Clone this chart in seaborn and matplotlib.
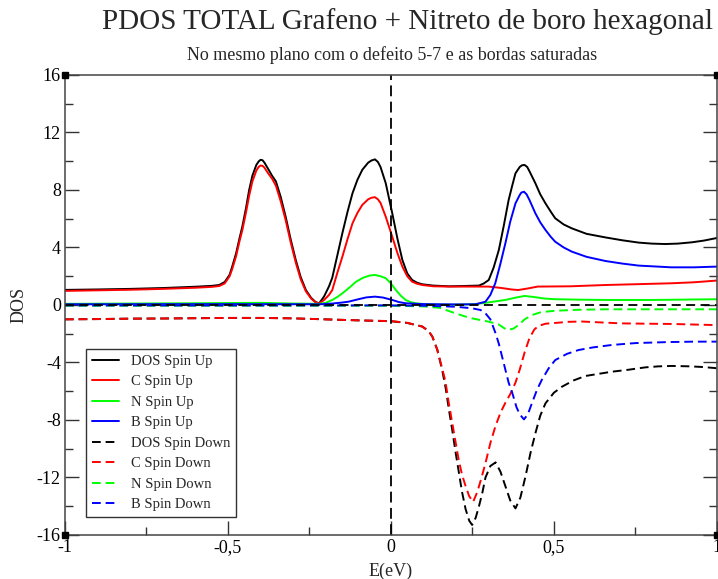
import matplotlib
matplotlib.use("Agg")
import matplotlib.pyplot as plt
import seaborn as sns
from matplotlib.ticker import MultipleLocator

# PDOS values (E in eV)
e_dos_up = [-1.0, -0.9, -0.8, -0.7, -0.6, -0.55, -0.527, -0.51, -0.495, -0.487, -0.475, -0.465,
            -0.456, -0.445, -0.435, -0.425, -0.413, -0.406, -0.40, -0.394, -0.388, -0.375, -0.365,
            -0.353, -0.338, -0.323, -0.308, -0.292, -0.277, -0.261, -0.245, -0.231, -0.22, -0.205,
            -0.19, -0.18, -0.165, -0.149, -0.133, -0.118, -0.103, -0.088, -0.07, -0.06, -0.049,
            -0.04, -0.032, -0.016, 0.004, 0.02, 0.035, 0.05, 0.065, 0.08, 0.096, 0.13, 0.178,
            0.22, 0.27, 0.285, 0.30, 0.315, 0.331, 0.346, 0.361, 0.372, 0.382, 0.395, 0.402,
            0.41, 0.418, 0.425, 0.443, 0.458, 0.474, 0.49, 0.504, 0.53, 0.555, 0.6, 0.658, 0.71,
            0.76, 0.8, 0.841, 0.88, 0.923, 0.96, 1.0]
dos_up = [1.05, 1.08, 1.12, 1.18, 1.27, 1.33, 1.39, 1.6, 2.1, 2.67, 3.6, 4.6,
          5.45, 6.7, 8.0, 9.0, 9.74, 9.98, 10.1, 10.07, 9.9, 9.4, 9.0,
          8.6, 7.5, 6.14, 4.6, 3.13, 1.95, 1.04, 0.5, 0.2, 0.12, 0.6,
          1.3, 1.9, 3.4, 5.0, 6.5, 7.77, 8.7, 9.4, 9.9, 10.05, 10.13,
          9.95, 9.6, 8.47, 6.38, 4.6, 3.13, 2.2, 1.74, 1.55, 1.44, 1.35, 1.3,
          1.32, 1.35, 1.5, 1.74, 2.6, 3.83, 5.5, 7.3, 8.3, 9.16, 9.6, 9.72,
          9.74, 9.6, 9.3, 8.47, 7.7, 7.07, 6.5, 6.03, 5.6, 5.33, 4.95, 4.7, 4.5,
          4.34, 4.27, 4.24, 4.27, 4.36, 4.48, 4.66]

e_c_up = [-1.0, -0.9, -0.8, -0.7, -0.6, -0.55, -0.527, -0.51, -0.495, -0.487, -0.475, -0.465,
          -0.456, -0.445, -0.435, -0.425, -0.413, -0.406, -0.40, -0.394, -0.388, -0.375, -0.365,
          -0.353, -0.338, -0.323, -0.308, -0.292, -0.277, -0.261, -0.245, -0.231, -0.22, -0.205,
          -0.19, -0.18, -0.165, -0.149, -0.133, -0.118, -0.103, -0.088, -0.07, -0.06, -0.049,
          -0.04, -0.032, -0.016, 0.004, 0.02, 0.035, 0.05, 0.065, 0.08, 0.096, 0.13, 0.178,
          0.25, 0.30, 0.34, 0.37, 0.39, 0.42, 0.45, 0.55, 0.658, 0.76, 0.86, 0.93, 1.0]
c_up = [0.98, 1.02, 1.06, 1.12, 1.2, 1.26, 1.32, 1.5, 2.0, 2.5, 3.4, 4.4,
        5.2, 6.4, 7.6, 8.6, 9.35, 9.6, 9.7, 9.68, 9.55, 9.1, 8.8,
        8.3, 7.2, 5.9, 4.4, 2.95, 1.8, 0.95, 0.45, 0.18, 0.1, 0.35,
        0.7, 1.04, 2.2, 3.36, 4.6, 5.68, 6.4, 6.96, 7.35, 7.46, 7.5,
        7.35, 7.1, 6.14, 4.75, 3.6, 2.67, 2.0, 1.62, 1.48, 1.39, 1.3, 1.28,
        1.28, 1.28, 1.18, 1.08, 1.04, 1.15, 1.28, 1.3, 1.39, 1.45, 1.51, 1.58, 1.7]

e_n_up = [-1.0, -0.8, -0.6, -0.4, -0.3, -0.22, -0.2, -0.18, -0.165, -0.149, -0.128, -0.107,
          -0.085, -0.065, -0.049, -0.032, -0.016, 0.0, 0.015, 0.03, 0.045, 0.06, 0.076, 0.1,
          0.15, 0.2, 0.25, 0.29, 0.32, 0.351, 0.38, 0.41, 0.44, 0.47, 0.504, 0.58, 0.658,
          0.8, 1.0]
n_up = [0.08, 0.1, 0.12, 0.15, 0.1, 0.08, 0.15, 0.35, 0.55, 0.81, 1.2, 1.62,
        1.9, 2.05, 2.09, 2.0, 1.86, 1.5, 1.04, 0.65, 0.35, 0.2, 0.12, 0.06,
        0.02, 0.02, 0.05, 0.15, 0.25, 0.35, 0.5, 0.63, 0.55, 0.45, 0.4, 0.37, 0.35,
        0.35, 0.4]

e_b_up = [-1.0, -0.5, -0.22, -0.18, -0.15, -0.13, -0.1, -0.075, -0.049, -0.025, 0.004, 0.025,
          0.045, 0.1, 0.2, 0.26, 0.29, 0.305, 0.32, 0.335, 0.351, 0.366, 0.382, 0.395, 0.40,
          0.408, 0.416, 0.425, 0.443, 0.458, 0.474, 0.49, 0.504, 0.53, 0.555, 0.6, 0.658, 0.71,
          0.76, 0.86, 0.93, 1.0]
b_up = [0.05, 0.06, 0.05, 0.1, 0.17, 0.23, 0.4, 0.53, 0.58, 0.52, 0.35, 0.2,
        0.12, 0.06, 0.04, 0.05, 0.23, 0.7, 1.51, 2.8, 4.29, 5.8, 7.07, 7.65, 7.82,
        7.88, 7.7, 7.3, 6.38, 5.75, 5.22, 4.75, 4.4, 4.0, 3.71, 3.35, 3.06, 2.88,
        2.74, 2.62, 2.62, 2.67]

e_dos_dn = [-1.0, -0.9, -0.8, -0.7, -0.6, -0.5, -0.4, -0.3, -0.2, -0.1, 0.0, 0.05, 0.096,
            0.115, 0.127, 0.142, 0.157, 0.168, 0.178, 0.188, 0.198, 0.208, 0.218, 0.229, 0.24,
            0.249, 0.26, 0.27, 0.28, 0.29, 0.305, 0.321, 0.336, 0.351, 0.366, 0.382, 0.397,
            0.413, 0.428, 0.443, 0.458, 0.474, 0.5, 0.525, 0.56, 0.596, 0.64, 0.678, 0.73,
            0.78, 0.82, 0.862, 0.92, 0.96, 1.0]
dos_dn = [-1.0, -0.98, -0.95, -0.94, -0.92, -0.9, -0.9, -0.93, -1.0, -1.07, -1.13, -1.25, -1.5,
          -1.8, -2.2, -3.1, -4.5, -5.8, -7.3, -8.7, -10.2, -11.6, -13.0, -14.2, -15.0,
          -15.3, -14.8, -14.0, -13.1, -12.0, -11.2, -10.95, -11.6, -12.6, -13.6, -14.15, -13.4,
          -11.9, -10.3, -8.93, -7.7, -6.84, -6.1, -5.68, -5.25, -4.94, -4.78, -4.64, -4.5,
          -4.34, -4.27, -4.24, -4.27, -4.32, -4.4]

e_c_dn = [-1.0, -0.9, -0.8, -0.7, -0.6, -0.5, -0.4, -0.3, -0.2, -0.1, 0.0, 0.05, 0.096,
          0.115, 0.127, 0.142, 0.157, 0.167, 0.178, 0.188, 0.198, 0.208, 0.218, 0.229, 0.24,
          0.252, 0.265, 0.278, 0.29, 0.305, 0.321, 0.336, 0.351, 0.366, 0.382, 0.395, 0.41,
          0.425, 0.44, 0.453, 0.475, 0.504, 0.545, 0.586, 0.65, 0.708, 0.78, 0.862, 0.93, 1.0]
c_dn = [-1.0, -0.98, -0.95, -0.94, -0.92, -0.9, -0.9, -0.93, -1.0, -1.07, -1.12, -1.24, -1.5,
        -1.8, -2.2, -3.1, -4.4, -5.3, -6.9, -8.2, -9.5, -10.8, -11.8, -12.6, -13.3,
        -13.7, -13.0, -12.0, -11.0, -9.6, -8.4, -7.5, -6.8, -6.2, -5.4, -4.5, -3.3,
        -2.3, -1.7, -1.45, -1.3, -1.25, -1.17, -1.15, -1.22, -1.28, -1.3, -1.32, -1.36, -1.4]

e_n_dn = [-1.0, -0.5, 0.0, 0.1, 0.15, 0.175, 0.198, 0.225, 0.249, 0.275, 0.30, 0.33, 0.356,
          0.375, 0.392, 0.41, 0.433, 0.46, 0.504, 0.58, 0.658, 0.8, 1.0]
n_dn = [-0.05, -0.05, -0.05, -0.1, -0.2, -0.4, -0.58, -0.78, -0.93, -1.05, -1.16, -1.35, -1.74,
        -1.65, -1.39, -1.0, -0.7, -0.5, -0.4, -0.33, -0.3, -0.3, -0.3]

e_b_dn = [-1.0, -0.5, 0.0, 0.1, 0.198, 0.249, 0.275, 0.29, 0.305, 0.321, 0.331, 0.341, 0.351,
          0.361, 0.372, 0.385, 0.395, 0.408, 0.42, 0.433, 0.448, 0.463, 0.484, 0.504, 0.54,
          0.576, 0.62, 0.678, 0.75, 0.85, 0.93, 1.0]
b_dn = [-0.03, -0.03, -0.03, -0.05, -0.12, -0.23, -0.35, -0.58, -1.0, -1.97, -2.7, -3.6, -4.5,
        -5.4, -6.1, -7.1, -7.6, -7.96, -7.6, -6.8, -5.9, -5.2, -4.4, -3.83, -3.4,
        -3.13, -2.95, -2.78, -2.65, -2.58, -2.55, -2.55]

dash = (0, (4.5, 2.5))
series = [
    ("DOS Spin Up", e_dos_up, dos_up, "black", "-"),
    ("C Spin Up", e_c_up, c_up, "red", "-"),
    ("N Spin Up", e_n_up, n_up, "#00ff00", "-"),
    ("B Spin Up", e_b_up, b_up, "blue", "-"),
    ("DOS Spin Down", e_dos_dn, dos_dn, "black", dash),
    ("C Spin Down", e_c_dn, c_dn, "red", dash),
    ("N Spin Down", e_n_dn, n_dn, "#00ff00", dash),
    ("B Spin Down", e_b_dn, b_dn, "blue", dash),
]

sns.set_style("ticks")
plt.rcParams["font.family"] = ["Liberation Serif", "DejaVu Serif"]
plt.rcParams["axes.unicode_minus"] = False

fig = plt.figure(figsize=(7.18, 5.79), dpi=100)
ax = fig.add_axes([0.0905, 0.076, 0.908, 0.7945])

for name, xs, ys, col, ls in series:
    sns.lineplot(x=xs, y=ys, ax=ax, color=col, linestyle=ls, lw=1.4, label=name)

# zero reference lines
ax.axhline(0, color="black", lw=1.3, linestyle=(0, (5, 3)))
ax.axvline(0, color="black", lw=1.3, linestyle=(0, (6, 3)))

ax.set_xlim(-1, 1)
ax.set_ylim(-16, 16)
ax.set_xticks([-1, -0.5, 0, 0.5, 1])
ax.set_xticklabels(["-1", "-0,5", "0", "0,5", "1"])
ax.xaxis.set_minor_locator(MultipleLocator(0.25))
ax.yaxis.set_major_locator(MultipleLocator(4))
ax.yaxis.set_minor_locator(MultipleLocator(2))
ax.tick_params(which="both", direction="in", left=True, right=True, bottom=True, top=False,
               labelsize=13, colors="#333333", labelcolor="black", pad=3)
ax.tick_params(which="major", length=10, width=1)
ax.tick_params(which="minor", length=5.5, width=1)
for sp in ax.spines.values():
    sp.set_visible(True)
    sp.set_color("#444444")
    sp.set_linewidth(1.1)

# little corner squares
ax.plot([0, 0, 1, 1], [0, 1, 0, 1], "s", color="black", ms=5, transform=ax.transAxes,
        clip_on=False, zorder=5)

ax.set_xlabel("E(eV)", fontsize=13, labelpad=5)
ax.set_ylabel("DOS", fontsize=13, labelpad=7)

leg = ax.legend(loc="lower left", bbox_to_anchor=(0.032, 0.039), fontsize=10.5,
                frameon=True, fancybox=False, edgecolor="#333333", framealpha=1,
                handlelength=1.85, handletextpad=0.85, labelspacing=0.5,
                borderpad=0.4, borderaxespad=0)
leg.get_frame().set_linewidth(1.0)

fig.text(0.568, 0.963, "PDOS TOTAL Grafeno + Nitreto de boro hexagonal", ha="center",
         va="center", fontsize=21)
fig.text(0.546, 0.905, "No mesmo plano com o defeito 5-7 e as bordas saturadas", ha="center",
         va="center", fontsize=13)

fig.savefig("out.png", dpi=100)
